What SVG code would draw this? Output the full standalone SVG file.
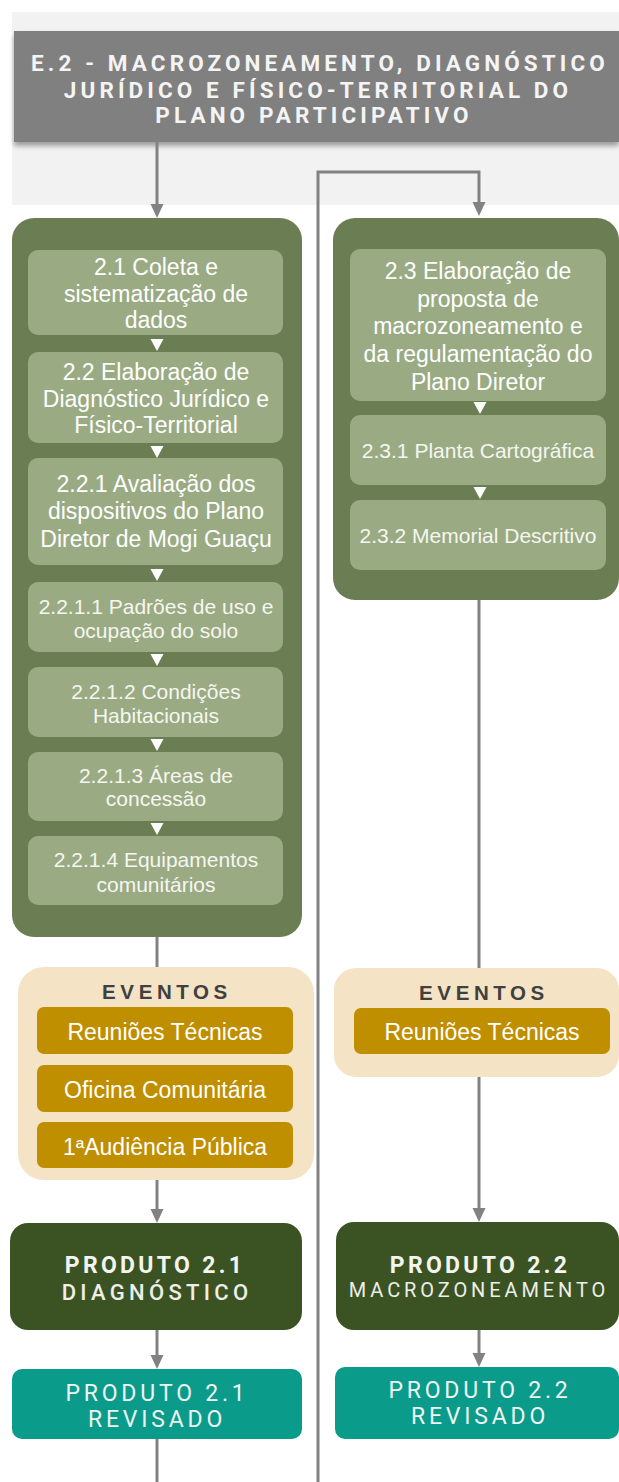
<svg xmlns="http://www.w3.org/2000/svg" width="619" height="1482" viewBox="0 0 619 1482">
<style>
.conn{fill:none;stroke:#828282;stroke-width:3}
.panel{fill:#6b7d53}
.inner{fill:#9aab84}
.tri{fill:#ffffff}
.t23{font-family:"Liberation Sans",Arial,sans-serif;font-size:23px;fill:#ffffff;text-anchor:middle}
.t21{font-family:"Liberation Sans",Arial,sans-serif;font-size:21px;fill:#f6f6f0;text-anchor:middle}
.head{font-family:Roboto,"Liberation Sans",sans-serif;font-weight:bold;font-size:22.5px;letter-spacing:4.1px;fill:#f4f4f4;text-anchor:middle}
.evbox{fill:#f4e3c5}
.ev{font-family:"Liberation Sans",Arial,sans-serif;font-weight:bold;font-size:20.5px;letter-spacing:4.6px;fill:#404040;text-anchor:middle}
.gold{fill:#c08f00}
.bt{font-family:"Liberation Sans",Arial,sans-serif;font-size:23px;fill:#ffffff;text-anchor:middle}
.prod{fill:#3b5323}
.pb{font-family:Roboto,"Liberation Sans",sans-serif;font-weight:bold;font-size:23px;letter-spacing:3.3px;fill:#f4f4f0;text-anchor:middle}
.pr{font-family:Roboto,"Liberation Sans",sans-serif;font-weight:500;font-size:22px;letter-spacing:4.3px;fill:#eeeeea;text-anchor:middle}
.teal{fill:#0b9b8b}
.tt{font-family:Roboto,"Liberation Sans",sans-serif;font-size:23px;letter-spacing:3.8px;fill:#eef6f2;text-anchor:middle}
</style>
<defs>
<filter id="sh" x="-5%" y="-10%" width="110%" height="130%">
<feDropShadow dx="0" dy="4" stdDeviation="2.5" flood-color="#000" flood-opacity="0.35"/>
</filter>
</defs>

<rect x="12" y="12" width="607" height="193" fill="#f2f2f2"/>

<g id="header">
<rect x="14" y="31" width="605" height="111" fill="#808080" filter="url(#sh)"/>
<text class="head" x="320" y="71">E.2 - MACROZONEAMENTO, DIAGNÓSTICO</text>
<text class="head" x="318" y="98">JURÍDICO E FÍSICO-TERRITORIAL DO</text>
<text class="head" x="314" y="123">PLANO PARTICIPATIVO</text>
</g>

<g id="connectors">
<line class="conn" x1="157" y1="142" x2="157" y2="205"/>
<path d="M150.5,204 L163.5,204 L157,218 Z" fill="#828282"/>
<path class="conn" d="M318,1482 L318,172 L479,172 L479,203"/>
<path d="M472.5,202 L485.5,202 L479,216 Z" fill="#828282"/>
<line class="conn" x1="157" y1="937" x2="157" y2="968"/>
<line class="conn" x1="157" y1="1180" x2="157" y2="1210"/>
<path d="M150.5,1209 L163.5,1209 L157,1223 Z" fill="#828282"/>
<line class="conn" x1="157" y1="1330" x2="157" y2="1356"/>
<path d="M150.5,1355 L163.5,1355 L157,1369 Z" fill="#828282"/>
<line class="conn" x1="157" y1="1439" x2="157" y2="1482"/>
<line class="conn" x1="479" y1="600" x2="479" y2="968"/>
<line class="conn" x1="479" y1="1077" x2="479" y2="1209"/>
<path d="M472.5,1208 L485.5,1208 L479,1222 Z" fill="#828282"/>
<line class="conn" x1="479" y1="1330" x2="479" y2="1354"/>
<path d="M472.5,1353 L485.5,1353 L479,1367 Z" fill="#828282"/>
</g>

<g id="panel-left">
<rect class="panel" x="12" y="218" width="290" height="719" rx="22"/>
</g>

<g id="n2-1">
<rect class="inner" x="28" y="250" width="255" height="85" rx="10"/>
<text class="t23" x="156" y="275">2.1 Coleta e</text>
<text class="t23" x="156" y="302">sistematização de</text>
<text class="t23" x="156" y="328">dados</text>
</g>
<polygon class="tri" points="150.5,339 163.5,339 157,351"/>
<g id="n2-2">
<rect class="inner" x="28" y="352" width="255" height="91" rx="10"/>
<text class="t23" x="156" y="380">2.2 Elaboração de</text>
<text class="t23" x="156" y="407">Diagnóstico Jurídico e</text>
<text class="t23" x="156" y="433">Físico-Territorial</text>
</g>
<polygon class="tri" points="150.5,446 163.5,446 157,458"/>
<g id="n2-2-1">
<rect class="inner" x="28" y="458" width="255" height="107" rx="10"/>
<text class="t23" x="156" y="492">2.2.1 Avaliação dos</text>
<text class="t23" x="156" y="519">dispositivos do Plano</text>
<text class="t23" x="156" y="547">Diretor de Mogi Guaçu</text>
</g>
<polygon class="tri" points="150.5,569 163.5,569 157,581"/>
<g id="n2-2-1-1">
<rect class="inner" x="28" y="582" width="255" height="70" rx="10"/>
<text class="t21" x="156" y="614">2.2.1.1 Padrões de uso e</text>
<text class="t21" x="156" y="638">ocupação do solo</text>
</g>
<polygon class="tri" points="150.5,654 163.5,654 157,666"/>
<g id="n2-2-1-2">
<rect class="inner" x="28" y="667" width="255" height="70" rx="10"/>
<text class="t21" x="156" y="699">2.2.1.2 Condições</text>
<text class="t21" x="156" y="723">Habitacionais</text>
</g>
<polygon class="tri" points="150.5,739 163.5,739 157,751"/>
<g id="n2-2-1-3">
<rect class="inner" x="28" y="752" width="255" height="69" rx="10"/>
<text class="t21" x="156" y="783">2.2.1.3 Áreas de</text>
<text class="t21" x="156" y="806">concessão</text>
</g>
<polygon class="tri" points="150.5,823 163.5,823 157,835"/>
<g id="n2-2-1-4">
<rect class="inner" x="28" y="836" width="255" height="69" rx="10"/>
<text class="t21" x="156" y="867">2.2.1.4 Equipamentos</text>
<text class="t21" x="156" y="892">comunitários</text>
</g>

<g id="panel-right">
<rect class="panel" x="333" y="218" width="286" height="382" rx="22"/>
</g>
<g id="n2-3">
<rect class="inner" x="350" y="249" width="256" height="152" rx="10"/>
<text class="t23" x="478" y="279">2.3 Elaboração de</text>
<text class="t23" x="478" y="307">proposta de</text>
<text class="t23" x="478" y="334">macrozoneamento e</text>
<text class="t23" x="478" y="362">da regulamentação do</text>
<text class="t23" x="478" y="390">Plano Diretor</text>
</g>
<polygon class="tri" points="473.5,402 486.5,402 480,414"/>
<g id="n2-3-1">
<rect class="inner" x="350" y="415" width="256" height="70" rx="10"/>
<text class="t21" x="478" y="458">2.3.1 Planta Cartográfica</text>
</g>
<polygon class="tri" points="473.5,487 486.5,487 480,499"/>
<g id="n2-3-2">
<rect class="inner" x="350" y="500" width="256" height="70" rx="10"/>
<text class="t21" x="478" y="543">2.3.2 Memorial Descritivo</text>
</g>

<g id="eventos-left">
<rect class="evbox" x="18" y="967" width="296" height="213" rx="26"/>
<text class="ev" x="167" y="999">EVENTOS</text>
<rect class="gold" x="37" y="1007" width="256" height="47" rx="7"/>
<text class="bt" x="165" y="1040">Reuniões Técnicas</text>
<rect class="gold" x="37" y="1065" width="256" height="47" rx="7"/>
<text class="bt" x="165" y="1098">Oficina Comunitária</text>
<rect class="gold" x="37" y="1122" width="256" height="46" rx="7"/>
<text class="bt" x="165" y="1155">1ªAudiência Pública</text>
</g>

<g id="eventos-right">
<rect class="evbox" x="334" y="968" width="285" height="109" rx="22"/>
<text class="ev" x="484" y="1000">EVENTOS</text>
<rect class="gold" x="354" y="1008" width="256" height="46" rx="7"/>
<text class="bt" x="482" y="1040">Reuniões Técnicas</text>
</g>

<g id="produto-2-1">
<rect class="prod" x="10" y="1223" width="292" height="107" rx="18"/>
<text class="pb" x="155" y="1273">PRODUTO 2.1</text>
<text class="pr" x="157" y="1300">DIAGNÓSTICO</text>
</g>
<g id="produto-2-2">
<rect class="prod" x="336" y="1222" width="283" height="108" rx="18"/>
<text class="pb" x="480" y="1273">PRODUTO 2.2</text>
<text class="pr" x="479" y="1297" style="font-weight:normal;font-size:20px;letter-spacing:3.9px">MACROZONEAMENTO</text>
</g>
<g id="produto-2-1-rev">
<rect class="teal" x="12" y="1369" width="290" height="70" rx="10"/>
<text class="tt" x="157" y="1401">PRODUTO 2.1</text>
<text class="tt" x="157" y="1427">REVISADO</text>
</g>
<g id="produto-2-2-rev">
<rect class="teal" x="335" y="1367" width="284" height="72" rx="10"/>
<text class="tt" x="480" y="1398">PRODUTO 2.2</text>
<text class="tt" x="480" y="1424">REVISADO</text>
</g>
</svg>
